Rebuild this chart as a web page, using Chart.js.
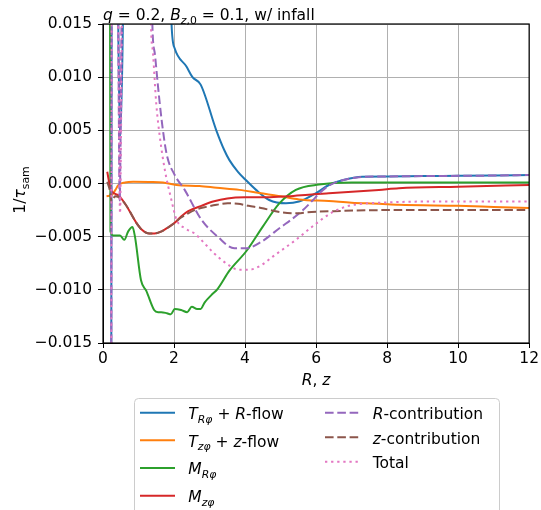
<!DOCTYPE html>
<html>
<head>
<meta charset="utf-8">
<script src="https://cdn.jsdelivr.net/npm/chart.js@4"></script>
<style>
html, body { margin: 0; padding: 0; background: #fff; }
</style>
</head>
<body>
<canvas id="chart" width="541" height="510"></canvas>
<script>
// R (or z) positions and values
const rTR = [0.23, 0.25, 0.40, 0.43, 0.48, 0.56, 0.60, 1.85, 1.93, 2.02, 2.35, 2.52, 2.75, 3.19, 3.42, 3.56, 3.8, 4.0, 4.31, 4.68, 5.15, 5.52, 5.99, 6.36, 6.74, 7.3, 8, 9, 10, 11, 12];
const vTR = [-0.03, 0.03, 0.03, 0.015, 0.0043, 0.015, 0.03, 0.03, 0.015, 0.0127, 0.011, 0.010, 0.0093, 0.005, 0.0031, 0.0022, 0.0011, 0.0004, -0.0006, -0.00155, -0.00186, -0.0017, -0.00092, -0.00014, 0.0003, 0.00064, 0.00066, 0.0007, 0.00072, 0.00075, 0.0008];

const rTZ = [0.1, 0.24, 0.35, 0.43, 0.62, 0.85, 1.3, 1.69, 2.07, 2.72, 3.2, 3.84, 4.4, 5.0, 5.52, 6.36, 7.0, 7.77, 8.33, 10, 11, 12];
const vTZ = [-0.0012, -0.0011, -0.0006, -0.00015, 0.0001, 0.00017, 0.00015, 0.0001, -0.00014, -0.00024, -0.0004, -0.0006, -0.0009, -0.0012, -0.0015, -0.00165, -0.0018, -0.0019, -0.002, -0.0021, -0.0022, -0.0023];

const rMR = [0.12, 0.19, 0.21, 0.29, 0.48, 0.6, 0.71, 0.83, 0.9, 1.07, 1.22, 1.44, 1.55, 1.64, 1.8, 1.91, 2.02, 2.2, 2.37, 2.5, 2.65, 2.75, 2.86, 3.05, 3.23, 3.56, 4.05, 4.49, 4.96, 5.43, 6.08, 7, 8, 10, 12];
const vMR = [0.03, 0.03, -0.0045, -0.0049, -0.0049, -0.0053, -0.0045, -0.0041, -0.005, -0.0091, -0.0101, -0.0119, -0.0121, -0.0121, -0.0122, -0.0123, -0.0118, -0.0119, -0.0121, -0.0116, -0.0118, -0.0118, -0.0112, -0.0105, -0.0099, -0.0082, -0.0063, -0.0041, -0.0019, -0.0006, -0.0001, 0.0001, 0.0001, 0.0001, 0.0001];

const rMZ = [0.12, 0.22, 0.43, 0.64, 0.94, 1.08, 1.3, 1.45, 1.65, 1.8, 2.02, 2.2, 2.4, 2.77, 3.1, 3.5, 4.0, 4.6, 5.2, 5.94, 6.36, 7.77, 8.33, 10, 12];
const vMZ = [0.0011, -0.0006, -0.0011, -0.002, -0.0037, -0.0043, -0.0047, -0.0047, -0.0045, -0.0042, -0.0037, -0.0031, -0.0026, -0.0021, -0.0017, -0.0014, -0.0013, -0.0013, -0.0012, -0.001, -0.00092, -0.0006, -0.00045, -0.0003, -0.00014];

const rRc = [0.23, 0.25, 0.40, 0.43, 0.47, 0.52, 0.55, 1.33, 1.39, 1.46, 1.55, 1.65, 1.79, 2.02, 2.3, 2.77, 3.23, 3.7, 4.03, 4.45, 5.01, 5.3, 5.6, 5.9, 6.1, 6.36, 6.74, 7.3, 8, 9, 10, 11, 12];
const vRc = [-0.03, 0.03, 0.03, 0.015, -0.0016, 0.015, 0.03, 0.03, 0.015, 0.0122, 0.0091, 0.006, 0.0028, 0.0008, -0.0006, -0.0034, -0.005, -0.0061, -0.0061, -0.0055, -0.0041, -0.0034, -0.0026, -0.0016, -0.0009, -0.0002, 0.0003, 0.00062, 0.00066, 0.0007, 0.00072, 0.00075, 0.0008];

const rZc = [0.12, 0.2, 0.24, 0.34, 0.45, 0.64, 0.94, 1.08, 1.3, 1.45, 1.65, 1.8, 2.02, 2.2, 2.4, 2.58, 2.9, 3.2, 3.51, 3.8, 4.1, 4.45, 5.01, 5.5, 5.76, 6.5, 8, 10, 12];
const vZc = [0.00017, -0.00077, -0.0017, -0.0012, -0.0013, -0.002, -0.0037, -0.0043, -0.0047, -0.0047, -0.0045, -0.0042, -0.0037, -0.0032, -0.0028, -0.0025, -0.0022, -0.002, -0.00186, -0.0019, -0.0021, -0.0023, -0.0027, -0.0028, -0.0027, -0.0026, -0.0025, -0.0025, -0.0025];

const rTot = [0.23, 0.25, 0.40, 0.43, 0.48, 0.53, 0.56, 1.28, 1.35, 1.41, 1.5, 1.6, 1.74, 1.93, 2.07, 2.3, 2.58, 2.85, 3.14, 3.51, 3.8, 4.12, 4.45, 4.77, 5.43, 5.99, 6.46, 6.92, 7.3, 7.86, 9, 10, 12];
const vTot = [-0.03, 0.03, 0.03, 0.015, -0.0028, 0.015, 0.03, 0.03, 0.015, 0.0122, 0.0075, 0.0044, 0.0013, -0.0016, -0.0034, -0.0042, -0.0047, -0.0056, -0.0066, -0.0076, -0.0081, -0.0081, -0.0077, -0.0069, -0.0053, -0.0038, -0.0027, -0.0021, -0.0019, -0.0018, -0.0017, -0.0017, -0.0017];

const xTicks = [0, 2, 4, 6, 8, 10, 12];
const yTicks = [-0.015, -0.010, -0.005, 0, 0.005, 0.010, 0.015];

const FS = 15.5;
const fnt = (it, size) => (it ? 'italic ' : '') + size + 'px "DejaVu Sans"';
const pts = (xs, ys) => xs.map((x, i) => ({ x: x, y: ys[i] }));

// pieces of text with italic / subscript parts
const series = [
  { r: rTR, v: vTR, color: '#1f77b4', dash: [], label: [{ t: 'T', it: 1 }, { t: 'Rφ', it: 1, sub: 1 }, { t: ' + ' }, { t: 'R', it: 1 }, { t: '-flow' }] },
  { r: rTZ, v: vTZ, color: '#ff7f0e', dash: [], label: [{ t: 'T', it: 1 }, { t: 'zφ', it: 1, sub: 1 }, { t: ' + ' }, { t: 'z', it: 1 }, { t: '-flow' }] },
  { r: rMR, v: vMR, color: '#2ca02c', dash: [], label: [{ t: 'M', it: 1 }, { t: 'Rφ', it: 1, sub: 1 }] },
  { r: rMZ, v: vMZ, color: '#d62728', dash: [], label: [{ t: 'M', it: 1 }, { t: 'zφ', it: 1, sub: 1 }] },
  { r: rRc, v: vRc, color: '#9467bd', dash: [8.6, 3.7], label: [{ t: 'R', it: 1 }, { t: '-contribution' }] },
  { r: rZc, v: vZc, color: '#8c564b', dash: [8.6, 3.7], label: [{ t: 'z', it: 1 }, { t: '-contribution' }] },
  { r: rTot, v: vTot, color: '#e377c2', dash: [2.3, 3.8], label: [{ t: 'Total' }] }
];

function rich(ctx, x, y, parts) {
  ctx.textAlign = 'left';
  ctx.textBaseline = 'alphabetic';
  for (const p of parts) {
    const size = p.sub ? FS * 0.7 : FS;
    ctx.font = fnt(p.it, size);
    ctx.fillText(p.t, x, y + (p.sub ? 3.5 : 0));
    x += ctx.measureText(p.t).width;
  }
  return x;
}
function richWidth(ctx, parts) {
  let w = 0;
  for (const p of parts) {
    ctx.font = fnt(p.it, p.sub ? FS * 0.7 : FS);
    w += ctx.measureText(p.t).width;
  }
  return w;
}

const extras = {
  id: 'extras',
  afterDraw(chart) {
    const ctx = chart.ctx;
    const a = chart.chartArea;
    ctx.save();
    // frame
    ctx.strokeStyle = '#000';
    ctx.lineWidth = 1.2;
    ctx.strokeRect(a.left, a.top, a.right - a.left, a.bottom - a.top);

    ctx.fillStyle = '#000';
    // title
    rich(ctx, a.left, 20, [{ t: 'q', it: 1 }, { t: ' = 0.2, ' }, { t: 'B', it: 1 }, { t: 'z', it: 1, sub: 1 }, { t: ',0', sub: 1 }, { t: ' = 0.1, w/ infall' }]);

    // x label
    const xl = [{ t: 'R', it: 1 }, { t: ', ' }, { t: 'z', it: 1 }];
    rich(ctx, (a.left + a.right) / 2 - richWidth(ctx, xl) / 2, 385, xl);

    // y label
    const yl = [{ t: '1/' }, { t: 'τ', it: 1 }, { t: 'sam', sub: 1 }];
    ctx.save();
    ctx.translate(25, 190);
    ctx.rotate(-Math.PI / 2);
    rich(ctx, -richWidth(ctx, yl) / 2, 0, yl);
    ctx.restore();

    // legend
    ctx.beginPath();
    ctx.roundRect(134.5, 398.5, 365, 130, 4);
    ctx.fillStyle = 'rgba(255,255,255,0.8)';
    ctx.fill();
    ctx.strokeStyle = '#cccccc';
    ctx.lineWidth = 1;
    ctx.stroke();

    const rows1 = [412.7, 440.3, 468, 495.7];
    const rows2 = [412.7, 437.2, 461.7];
    series.forEach((s, i) => {
      const col2 = i >= 4;
      const y = col2 ? rows2[i - 4] : rows1[i];
      const x0 = col2 ? 325 : 140;
      ctx.beginPath();
      ctx.setLineDash(s.dash);
      ctx.strokeStyle = s.color;
      ctx.lineWidth = 2;
      ctx.moveTo(x0, y);
      ctx.lineTo(x0 + 35, y);
      ctx.stroke();
      ctx.setLineDash([]);
      ctx.fillStyle = '#000';
      rich(ctx, col2 ? 372.7 : 188.3, y + 6.3, s.label);
    });
    ctx.restore();
  }
};

new Chart(document.getElementById('chart'), {
  type: 'scatter',
  data: {
    datasets: series.map((s, i) => ({
      data: pts(s.r, s.v),
      showLine: true,
      borderColor: s.color,
      borderWidth: 2,
      borderDash: s.dash,
      pointRadius: 0,
      cubicInterpolationMode: 'monotone',
      order: 6 - i
    }))
  },
  options: {
    responsive: false,
    animation: false,
    layout: { padding: { top: 24, right: 10, left: 0, bottom: 0 } },
    plugins: { legend: { display: false }, tooltip: { enabled: false } },
    scales: {
      x: {
        type: 'linear',
        min: 0, max: 12,
        afterBuildTicks: s => { s.ticks = xTicks.map(v => ({ value: v })); },
        afterFit: s => { s.height = 167; },
        grid: { color: '#b0b0b0', lineWidth: 1, tickColor: '#000', tickLength: 5 },
        border: { color: '#000', width: 1 },
        ticks: { color: '#000', font: { family: 'DejaVu Sans', size: FS }, padding: 2, maxRotation: 0 }
      },
      y: {
        min: -0.015, max: 0.015,
        afterBuildTicks: s => { s.ticks = yTicks.map(v => ({ value: v })); },
        afterFit: s => { s.width = 103; },
        grid: { color: '#b0b0b0', lineWidth: 1, tickColor: '#000', tickLength: 5 },
        border: { color: '#000', width: 1 },
        ticks: {
          color: '#000',
          font: { family: 'DejaVu Sans', size: FS },
          padding: 6,
          callback: v => (Math.abs(v) < 1e-9 ? '0.000' : (v < 0 ? '\u2212' : '') + Math.abs(v).toFixed(3))
        }
      }
    }
  },
  plugins: [extras]
});
</script>
</body>
</html>
